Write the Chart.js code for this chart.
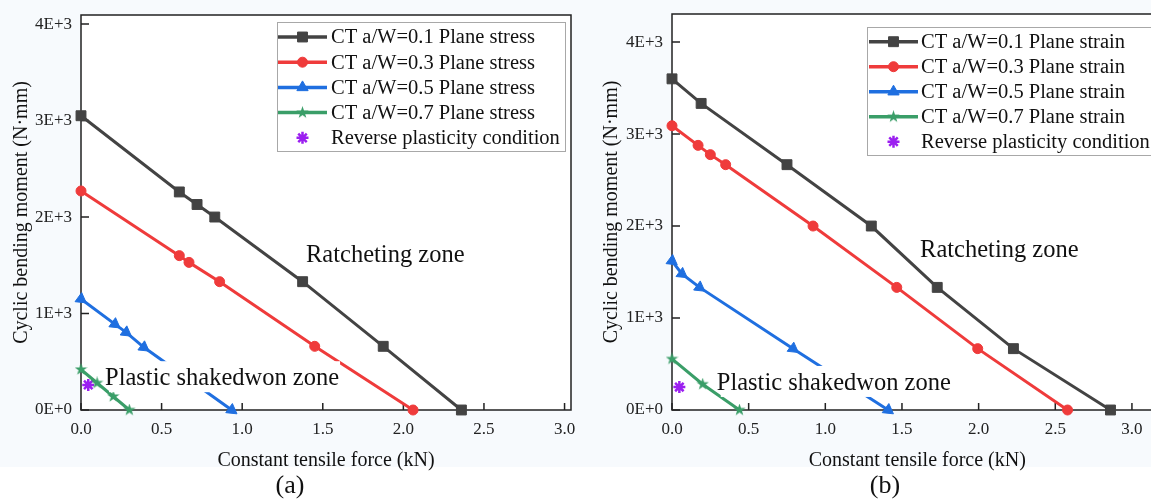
<!DOCTYPE html>
<html>
<head>
<meta charset="utf-8">
<script src="https://cdn.jsdelivr.net/npm/chart.js@4.4.0/dist/chart.umd.min.js"></script>
<style>
  html, body { margin: 0; padding: 0; background: #fff; overflow: hidden; }
  body { width: 1151px; height: 501px; position: relative; font-family: "Liberation Serif", serif; }
  canvas { position: absolute; top: 0; }
  #stressChart { left: 0; }
  #strainChart { left: 580px; }
  .tag { position: absolute; top: 470px; font-size: 26px; color: #111; text-align: center; width: 80px; }
</style>
</head>
<body>
<canvas id="stressChart" width="580" height="473"></canvas>
<canvas id="strainChart" width="600" height="473"></canvas>
<div class="tag" style="left:250px">(a)</div>
<div class="tag" style="left:845px">(b)</div>
<script>
// (a) plane stress
const stress01X = [0, 0.61, 0.72, 0.83, 1.375, 1.875, 2.36];
const stress01Y = [3050, 2260, 2130, 2000, 1330, 660, 0];
const stress03X = [0, 0.61, 0.67, 0.86, 1.45, 2.06];
const stress03Y = [2270, 1600, 1530, 1330, 660, 0];
const stress05X = [0, 0.21, 0.28, 0.39, 0.935];
const stress05Y = [1150, 890, 805, 650, 0];
const stress07X = [0, 0.1, 0.2, 0.3];
const stress07Y = [420, 280, 140, 0];
const stressReverseX = [0.045];
const stressReverseY = [260];

// (b) plane strain
const strain01X = [0, 0.19, 0.75, 1.30, 1.73, 2.227, 2.86];
const strain01Y = [3600, 3333, 2667, 2000, 1333, 667, 0];
const strain03X = [0, 0.17, 0.25, 0.35, 0.92, 1.466, 1.994, 2.58];
const strain03Y = [3090, 2877, 2776, 2667, 2000, 1333, 667, 0];
const strain05X = [0, 0.065, 0.18, 0.79, 1.41];
const strain05Y = [1620, 1480, 1333, 667, 0];
const strain07X = [0, 0.2, 0.44];
const strain07Y = [555, 280, 0];
const strainReverseX = [0.048];
const strainReverseY = [250];

const stressLabels = ['CT a/W=0.1 Plane stress', 'CT a/W=0.3 Plane stress', 'CT a/W=0.5 Plane stress', 'CT a/W=0.7 Plane stress', 'Reverse plasticity condition'];
const strainLabels = ['CT a/W=0.1 Plane strain', 'CT a/W=0.3 Plane strain', 'CT a/W=0.5 Plane strain', 'CT a/W=0.7 Plane strain', 'Reverse plasticity condition'];
const xTickValues = [0, 0.5, 1.0, 1.5, 2.0, 2.5, 3.0];
const xTickLabels = ['0.0', '0.5', '1.0', '1.5', '2.0', '2.5', '3.0'];
const yTickValues = [0, 1000, 2000, 3000, 4000];
const yTickLabels = ['0E+0', '1E+3', '2E+3', '3E+3', '4E+3'];

const BLACK = '#434343', RED = '#ef3b3b', BLUE = '#1f6fe0', GREEN = '#3a9e68', PURPLE = '#9b1ff0';
const SERIF = '"Liberation Serif", "Times New Roman", serif';

const greenStar = (() => {
    const c = document.createElement('canvas');
    c.width = c.height = 13;
    const g = c.getContext('2d');
    g.fillStyle = GREEN;
    g.beginPath();
    for (let i = 0; i < 10; i++) {
        const r = i % 2 ? 2.6 : 6.5;
        const a = -Math.PI / 2 + i * Math.PI / 5;
        g.lineTo(6.5 + r * Math.cos(a), 6.5 + r * Math.sin(a));
    }
    g.closePath();
    g.fill();
    return c;
})();

const pts = (xs, ys) => xs.map((x, i) => ({ x: x, y: ys[i] }));

function series(label, xs, ys, color, style, radius, rotation) {
    return {
        label: label,
        data: pts(xs, ys),
        showLine: true,
        borderColor: color,
        backgroundColor: color,
        borderWidth: 3,
        tension: 0,
        pointStyle: style,
        pointRadius: radius,
        pointRotation: rotation || 0,
        pointBackgroundColor: color,
        pointBorderColor: color,
        pointBorderWidth: 1,
        clip: false
    };
}

function reverse(label, xs, ys) {
    return {
        label: label,
        data: pts(xs, ys),
        showLine: false,
        pointStyle: 'star',
        pointRadius: 6,
        pointBorderColor: PURPLE,
        pointBackgroundColor: PURPLE,
        pointBorderWidth: 2.5,
        clip: false
    };
}

// frame, inward ticks, zone notes and boxed legend
const figurePlugin = {
    id: 'figure',
    beforeDraw(chart) {
        const { ctx, chartArea: a } = chart;
        ctx.save();
        ctx.fillStyle = '#f7fafd';
        ctx.fillRect(0, 0, chart.width, 467);
        ctx.fillStyle = '#ffffff';
        ctx.fillRect(a.left, a.top, a.right - a.left, a.bottom - a.top);
        ctx.restore();
    },
    beforeDatasetsDraw(chart) {
        const { ctx, chartArea: a, scales } = chart;
        ctx.save();
        ctx.strokeStyle = '#222';
        ctx.lineWidth = 1.5;
        ctx.strokeRect(a.left, a.top, a.right - a.left, a.bottom - a.top);
        ctx.beginPath();
        scales.x.ticks.forEach(t => {
            const px = scales.x.getPixelForValue(t.value);
            ctx.moveTo(px, a.bottom);
            ctx.lineTo(px, a.bottom - 7);
        });
        scales.y.ticks.forEach(t => {
            const py = scales.y.getPixelForValue(t.value);
            ctx.moveTo(a.left, py);
            ctx.lineTo(a.left + 8, py);
        });
        ctx.stroke();
        ctx.restore();
    },
    afterDatasetsDraw(chart, args, opts) {
        const { ctx, scales } = chart;
        ctx.save();
        ctx.font = '24.5px ' + SERIF;
        ctx.textBaseline = 'alphabetic';
        ctx.textAlign = 'left';
        opts.notes.forEach(n => {
            const px = scales.x.getPixelForValue(n.x);
            const py = scales.y.getPixelForValue(n.y);
            const w = ctx.measureText(n.text).width;
            ctx.fillStyle = '#ffffff';
            ctx.fillRect(px + 4, py - 24, w - 3, 31);
            ctx.fillStyle = '#111';
            ctx.fillText(n.text, px, py);
        });

        const L = opts.legend;
        ctx.fillStyle = '#ffffff';
        ctx.fillRect(L.x, L.y, L.w, L.h);
        ctx.strokeStyle = '#a8a8a8';
        ctx.lineWidth = 1;
        ctx.strokeRect(L.x + 0.5, L.y + 0.5, L.w, L.h);
        ctx.font = '20.5px ' + SERIF;
        ctx.textBaseline = 'middle';
        chart.data.datasets.forEach((ds, i) => {
            const y = L.row0 + i * L.step;
            const cx = (L.lineX0 + L.lineX1) / 2;
            if (ds.showLine) {
                ctx.strokeStyle = ds.borderColor;
                ctx.lineWidth = 3.5;
                ctx.beginPath();
                ctx.moveTo(L.lineX0, y);
                ctx.lineTo(L.lineX1, y);
                ctx.stroke();
            }
            ctx.fillStyle = ds.pointBackgroundColor;
            ctx.strokeStyle = ds.pointBorderColor;
            ctx.lineWidth = ds.pointBorderWidth;
            Chart.helpers.drawPoint(ctx, {
                pointStyle: ds.pointStyle,
                rotation: 0,
                radius: ds.pointRadius,
                borderWidth: ds.pointBorderWidth
            }, cx, y);
            ctx.fillStyle = '#111';
            ctx.fillText(ds.label, L.textX, y + 1);
        });
        ctx.restore();
    }
};

function makeChart(id, labels, sets, yMax, xMax, yWidth, titlePad, pad, legend, notes) {
    const ctx = document.getElementById(id).getContext('2d');
    return new Chart(ctx, {
        type: 'scatter',
        data: {
            datasets: [
                series(labels[0], sets[0], sets[1], BLACK, 'rect', 7),
                series(labels[1], sets[2], sets[3], RED, 'circle', 5),
                series(labels[2], sets[4], sets[5], BLUE, 'triangle', 6.5, 126),
                series(labels[3], sets[6], sets[7], GREEN, greenStar, 6),
                reverse(labels[4], sets[8], sets[9])
            ]
        },
        options: {
            responsive: false,
            animation: false,
            layout: { padding: pad },
            plugins: {
                legend: { display: false },
                tooltip: { enabled: false },
                figure: { legend: legend, notes: notes }
            },
            scales: {
                x: {
                    type: 'linear',
                    bounds: 'data',
                    min: 0,
                    max: xMax,
                    grid: { display: false, drawTicks: false },
                    border: { display: false },
                    afterBuildTicks: (s) => { s.ticks = xTickValues.map(v => ({ value: v })); },
                    ticks: {
                        padding: 9,
                        color: '#222',
                        autoSkip: false,
                        maxRotation: 0,
                        font: { family: SERIF, size: 17 },
                        callback: (v, i) => xTickLabels[i]
                    },
                    title: {
                        display: true,
                        text: 'Constant tensile force (kN)',
                        color: '#111',
                        font: { family: SERIF, size: 20 },
                        padding: { top: 0, bottom: 0 }
                    },
                    afterFit: (s) => { s.height = 63; s.paddingLeft = 0; s.paddingRight = 0; }
                },
                y: {
                    type: 'linear',
                    bounds: 'data',
                    min: 0,
                    max: yMax,
                    grid: { display: false, drawTicks: false },
                    border: { display: false },
                    afterBuildTicks: (s) => { s.ticks = yTickValues.map(v => ({ value: v })); },
                    ticks: {
                        padding: 9,
                        color: '#222',
                        autoSkip: false,
                        font: { family: SERIF, size: 17 },
                        callback: (v, i) => yTickLabels[i]
                    },
                    title: {
                        display: true,
                        text: 'Cyclic bending moment (N\u00b7mm)',
                        color: '#111',
                        font: { family: SERIF, size: 20 },
                        padding: { top: titlePad, bottom: 0 }
                    },
                    afterFit: (s) => { s.width = yWidth; s.paddingTop = 0; s.paddingBottom = 0; }
                }
            }
        },
        plugins: [figurePlugin]
    });
}

document.addEventListener('DOMContentLoaded', () => {
    makeChart('stressChart', stressLabels,
        [stress01X, stress01Y, stress03X, stress03Y, stress05X, stress05Y, stress07X, stress07Y, stressReverseX, stressReverseY],
        4094, 3.04, 81, 10, { left: 0, right: 9, top: 15, bottom: 0 },
        { x: 277, y: 22, w: 288, h: 129, row0: 37, step: 25.2, lineX0: 278, lineX1: 327, textX: 331 },
        [
            { text: 'Ratcheting zone', x: 1.396, y: 1535 },
            { text: 'Plastic shakedwon zone', x: 0.149, y: 257 }
        ]);

    makeChart('strainChart', strainLabels,
        [strain01X, strain01Y, strain03X, strain03Y, strain05X, strain05Y, strain07X, strain07Y, strainReverseX, strainReverseY],
        4305, 3.2, 92, 20, { left: 0, right: 17.4, top: 14, bottom: 0 },
        { x: 287, y: 27, w: 320, h: 128, row0: 41.7, step: 25, lineX0: 289, lineX1: 338, textX: 341 },
        [
            { text: 'Ratcheting zone', x: 1.618, y: 1660 },
            { text: 'Plastic shakedwon zone', x: 0.292, y: 218 }
        ]);
});
</script>
</body>
</html>
